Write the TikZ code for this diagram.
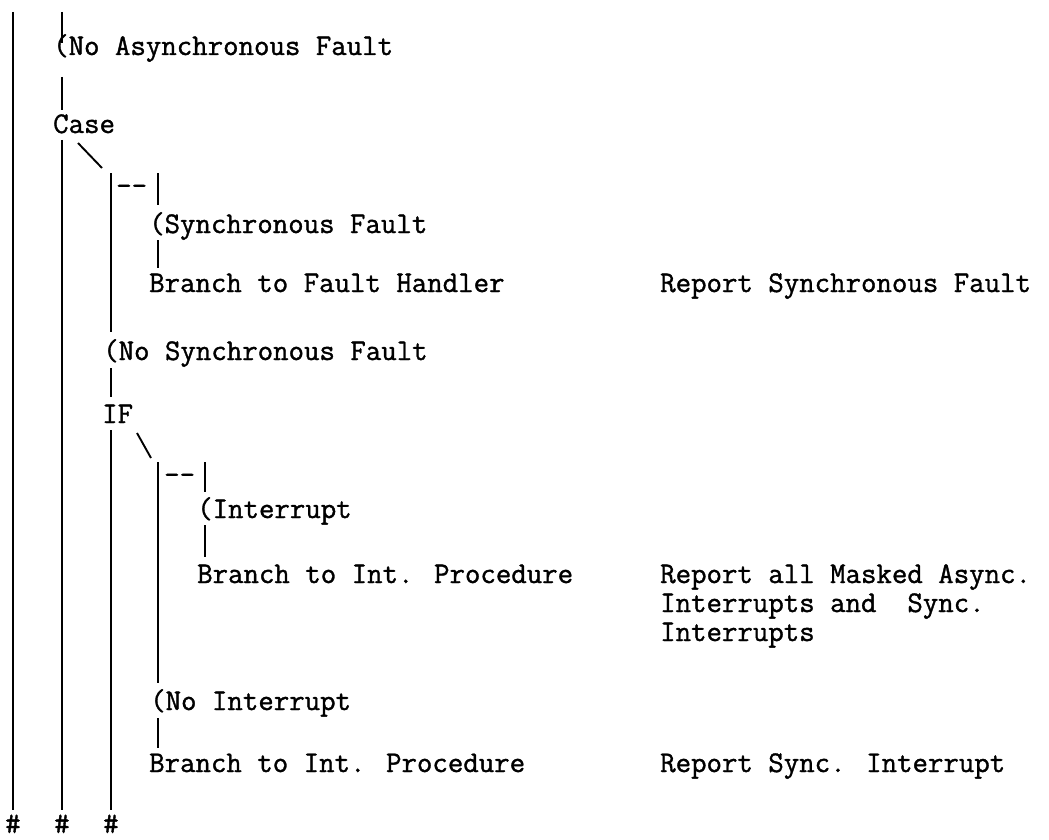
\documentclass[tikz,border=0pt]{standalone}
\usepackage{fontspec}
\newfontfamily\tw{Latin Modern Mono}[FakeBold=1.2]
\begin{document}
\begin{tikzpicture}[x=1pt,y=-1pt,
  txt/.style={font=\tw\fontsize{30}{30}\selectfont, inner sep=0pt, anchor=base west},
  ln/.style={line width=1.9pt}]
\useasboundingbox[fill=white] (0,0) rectangle (1049,840);
% texts
\node[txt] (async) at (53,55) {(No Asynchronous Fault};
\node[txt] (case) at (53,133) {Case};
\node[txt] (dash1) at (116,195) {-{}-};
\node[txt] (sf) at (149,233) {(Synchronous Fault};
\node[txt] (bfh) at (149,292) {Branch to Fault Handler};
\node[txt] (rsf) at (660,292) {Report Synchronous Fault};
\node[txt] (nsf) at (103,360) {(No Synchronous Fault};
\node[txt] (if) at (102,423) {IF};
\node[txt] (dash2) at (164,484) {-{}-};
\node[txt] (intr) at (197,518) {(Interrupt};
\node[txt] (bip1) at (197,583) {Branch to Int. Procedure};
\node[txt] (rm1) at (660,583) {Report all Masked Async.};
\node[txt] (rm2) at (660,612) {Interrupts and\ \ Sync.};
\node[txt] (rm3) at (660,641) {Interrupts};
\node[txt] (nint) at (150,710) {(No Interrupt};
\node[txt] (bip2) at (149,772) {Branch to Int. Procedure};
\node[txt] (rsi) at (660,772) {Report Sync. Interrupt};
\node[txt,anchor=base] (hA) at (13,833) {\#};
\node[txt,anchor=base] (hB) at (62,833) {\#};
\node[txt,anchor=base] (hC) at (111,833) {\#};
% coordinates
\coordinate (a0) at (13,12); \coordinate (a1) at (13,810);
\coordinate (b0) at (62,12); \coordinate (b1) at (62,43);
\coordinate (b2) at (62,77); \coordinate (b3) at (62,110);
\coordinate (b4) at (62,140); \coordinate (b5) at (62,810);
\coordinate (s0) at (78,143); \coordinate (s1) at (102,168);
\coordinate (c0) at (111,173); \coordinate (c1) at (111,332);
\coordinate (c2) at (111,368); \coordinate (c3) at (111,397);
\coordinate (c4) at (111,430); \coordinate (c5) at (111,810);
\coordinate (r0) at (158,173); \coordinate (r1) at (158,205);
\coordinate (q0) at (158,240); \coordinate (q1) at (158,268);
\coordinate (t0) at (137,433); \coordinate (t1) at (151,458);
\coordinate (d0) at (158,462); \coordinate (d1) at (158,683);
\coordinate (e0) at (205,462); \coordinate (e1) at (205,492);
\coordinate (f0) at (205,525); \coordinate (f1) at (205,557);
\coordinate (g0) at (158,718); \coordinate (g1) at (158,748);
% lines
\draw[ln] (a0) -- (a1);
\draw[ln] (b0) -- (b1);
\draw[ln] (b2) -- (b3);
\draw[ln] (b4) -- (b5);
\draw[ln] (s0) -- (s1);
\draw[ln] (c0) -- (c1);
\draw[ln] (c2) -- (c3);
\draw[ln] (c4) -- (c5);
\draw[ln] (r0) -- (r1);
\draw[ln] (q0) -- (q1);
\draw[ln] (t0) -- (t1);
\draw[ln] (d0) -- (d1);
\draw[ln] (e0) -- (e1);
\draw[ln] (f0) -- (f1);
\draw[ln] (g0) -- (g1);
\end{tikzpicture}
\end{document}
